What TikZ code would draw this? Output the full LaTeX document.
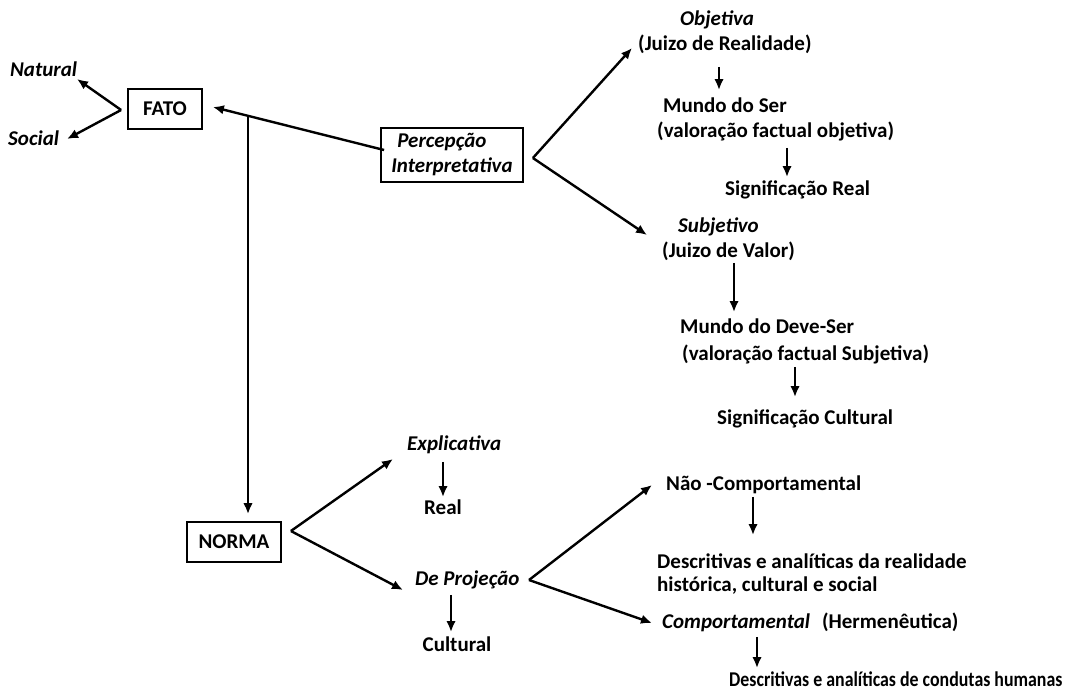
\documentclass[tikz,border=0pt]{standalone}
\usepackage{fontspec}
\usepackage{graphicx}
\setmainfont{Carlito}
\usetikzlibrary{arrows.meta,calc}
\begin{document}
\begin{tikzpicture}[x=1pt,y=-1pt,
  txt/.style={inner sep=0pt,anchor=west,text height=15pt,text depth=4.5pt,
    font=\fontsize{21}{25}\selectfont\bfseries},
  itxt/.style={txt,font=\fontsize{21}{25}\selectfont\bfseries\itshape},
  ctxt/.style={txt,anchor=center},
  boxed/.style={draw,line width=1.8pt,inner sep=0pt,minimum height=40pt,
    font=\fontsize{21}{25}\selectfont\bfseries},
  arr/.style={line width=2.4pt,-{Latex[length=11pt,width=9.5pt]}},
  ]
\fill[white] (0,0) rectangle (1068,693);
\useasboundingbox (0,0) rectangle (1068,693);

% boxes
\node[boxed,minimum width=74pt] (fato) at (165,109) {FATO};
\node[boxed,minimum width=142pt,minimum height=54pt,align=left,
  font=\fontsize{21}{25}\selectfont\bfseries\itshape] (perc) at (452,155)
  {\hspace*{6pt}Percepção\\Interpretativa};
\node[boxed,minimum width=94pt] (norma) at (234,542) {NORMA};

% left labels
\node[itxt] (natural) at (10,71) {Natural};
\node[itxt] (social) at (8,140) {Social};

% upper right branch
\node[itxt] (obj) at (680,20) {Objetiva};
\node[txt] (jr) at (638,45) {(Juizo de Realidade)};
\node[txt] (ms) at (663,107) {Mundo do Ser};
\node[txt] (vfo) at (657,132) {(valoração factual objetiva)};
\node[txt] (sr) at (725,190) {Significação Real};
\node[itxt] (subj) at (678,227) {Subjetivo};
\node[txt] (jv) at (662,252) {(Juizo de Valor)};
\node[txt] (mds) at (680,328) {Mundo do Deve-Ser};
\node[txt] (vfs) at (682,355) {(valoração factual Subjetiva)};
\node[txt] (sc) at (717,419) {Significação Cultural};

% lower branch
\node[itxt] (expl) at (407,445) {Explicativa};
\node[ctxt] (real) at (443,509) {Real};
\node[itxt] (proj) at (415,580) {De Projeção};
\node[ctxt] (cult) at (457,646) {Cultural};
\node[txt] (nc) at (666,485) {Não -Comportamental};
\node[txt] (dr1) at (657,563) {Descritivas e analíticas da realidade};
\node[txt] (dr2) at (657,586) {histórica, cultural e social};
\node[txt] (comp) at (662,623) {\textit{Comportamental}\hspace{12pt}(Hermenêutica)};
\node[txt] (dch) at (729,681)
  {\scalebox{0.85}[1]{Descritivas e analíticas de condutas humanas}};

% branching points
\coordinate (fv) at ($(fato.west)+(-6,1)$);
\coordinate (pv) at ($(perc.east)+(9,3)$);
\coordinate (nv) at ($(norma.east)+(9,-11)$);
\coordinate (pjv) at ($(proj.west)+(114,0)$);
\coordinate (split) at (248,116);

% connectors
\draw[arr] (fv) -- ($(natural.west)+(67,8)$);
\draw[arr] (fv) -- ($(social.west)+(59,-1)$);
\draw[arr] ($(perc.west)+(4,-5)$) -- ($(fato.east)+(10,-2)$);
\draw[arr,shorten >=7pt] (split) -- (split |- norma.north);

\draw[arr] (pv) -- ($(jr.west)+(-6,3)$);
\draw[arr] (pv) -- ($(jv.west)+(-15,-17)$);
\draw[arr,shorten <=12pt,shorten >=7pt] ([xshift=81pt]jr.south west) -- ([xshift=81pt]jr.south west |- ms.north);
\draw[arr,shorten <=6pt,shorten >=3pt] ([xshift=130pt]vfo.south west) -- ([xshift=130pt]vfo.south west |- sr.north);
\draw[arr,shorten <=1pt,shorten >=6pt] ([xshift=72pt]jv.south west) -- ([xshift=72pt]jv.south west |- mds.north);
\draw[arr,shorten <=2pt,shorten >=12pt] ([xshift=113pt]vfs.south west) -- ([xshift=113pt]vfs.south west |- sc.north);

\draw[arr] (nv) -- ($(expl.west)+(-14,14)$);
\draw[arr] (nv) -- ($(proj.west)+(-12,10)$);
\draw[arr,shorten <=7pt,shorten >=2pt] ([xshift=36pt]expl.south west) -- ([xshift=36pt]expl.south west |- real.north);
\draw[arr,shorten <=5pt,shorten >=4pt] ([xshift=36pt]proj.south west) -- ([xshift=36pt]proj.south west |- cult.north);

\draw[arr] (pjv) -- ($(nc.west)+(-14,0)$);
\draw[arr] (pjv) -- ($(comp.west)+(-10,0)$);
\draw[arr,shorten <=2pt,shorten >=18pt] ([xshift=87pt]nc.south west) -- ([xshift=87pt]nc.south west |- dr1.north);
\draw[arr,shorten <=4pt,shorten >=3pt] ([xshift=95pt]comp.south west) -- ([xshift=95pt]comp.south west |- dch.north);
\end{tikzpicture}
\end{document}
